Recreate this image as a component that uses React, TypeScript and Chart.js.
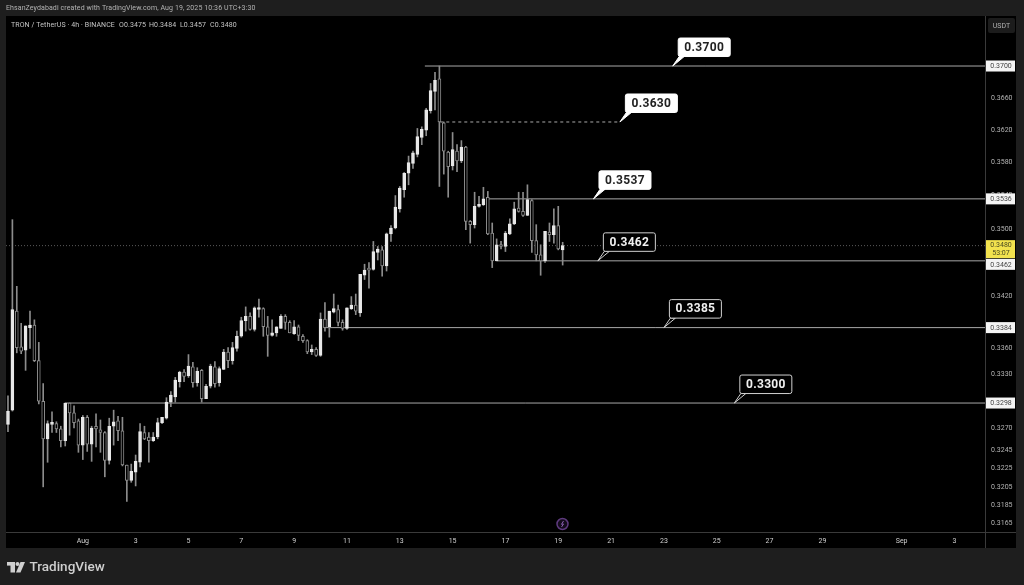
import React, { useEffect, useRef } from "react";
import { Chart, registerables } from "chart.js";
Chart.register(...registerables);

const opens = [.3274,.3290,.3403,.3362,.3358,.3384,.3387,.3346,.3300,.3258,.3274,.3275,.3269,.3256,.3298,.3287,.3278,.3251,.3282,.3252,.3272,.3268,.3265,.3234,.3272,.3278,.3267,.3229,.3212,.3221,.3232,.3265,.3260,.3256,.3260,.3276,.3281,.3299,.3305,.3322,.3333,.3329,.3339,.3321,.3335,.3303,.3317,.3339,.3321,.3336,.3356,.3346,.3360,.3374,.3392,.3397,.3382,.3405,.3406,.3385,.3375,.3378,.3383,.3397,.3390,.3377,.3385,.3374,.3369,.3356,.3359,.3352,.3394,.3385,.3402,.3405,.3390,.3383,.3406,.3410,.3401,.3445,.3452,.3452,.3472,.3475,.3456,.3494,.3501,.3524,.3547,.3567,.3579,.3590,.3611,.3620,.3644,.3668,.3684,.3629,.3593,.3576,.3594,.3582,.3599,.3509,.3505,.3527,.3529,.3538,.3495,.3462,.3481,.3479,.3494,.3506,.3525,.3521,.3516,.3534,.3486,.3469,.3462,.3496,.3493,.3504,.3475];
const highs = [.3306,.3511,.3432,.3389,.3386,.3403,.3393,.3367,.3320,.3278,.3288,.3277,.3272,.3298,.3298,.3295,.3280,.3284,.3284,.3272,.3286,.3279,.3266,.3281,.3290,.3283,.3282,.3229,.3230,.3240,.3275,.3272,.3265,.3265,.3281,.3282,.3304,.3311,.3327,.3334,.3336,.3353,.3344,.3338,.3336,.3319,.3342,.3345,.3339,.3359,.3361,.3367,.3380,.3396,.3408,.3401,.3408,.3417,.3407,.3397,.3393,.3385,.3399,.3399,.3392,.3392,.3387,.3376,.3370,.3364,.3361,.3401,.3413,.3403,.3423,.3410,.3393,.3407,.3420,.3423,.3446,.3458,.3460,.3485,.3479,.3479,.3495,.3504,.3540,.3551,.3568,.3588,.3594,.3622,.3624,.3647,.3678,.3692,.3700,.3630,.3594,.3617,.3602,.3607,.3600,.3510,.3544,.3539,.3550,.3545,.3507,.3488,.3485,.3497,.3512,.3532,.3544,.3544,.3553,.3535,.3505,.3481,.3497,.3507,.3524,.3527,.3484];
const lows = [.3266,.3289,.3355,.3354,.3335,.3360,.3345,.3297,.3205,.3232,.3265,.3265,.3249,.3250,.3262,.3270,.3243,.3235,.3244,.3233,.3249,.3243,.3216,.3230,.3251,.3256,.3228,.3189,.3210,.3206,.3227,.3257,.3232,.3255,.3258,.3275,.3280,.3294,.3299,.3316,.3322,.3327,.3316,.3317,.3299,.3303,.3315,.3316,.3317,.3336,.3338,.3342,.3357,.3373,.3380,.3381,.3380,.3396,.3374,.3351,.3374,.3374,.3383,.3382,.3378,.3376,.3369,.3367,.3354,.3353,.3351,.3351,.3380,.3373,.3401,.3386,.3381,.3382,.3405,.3399,.3397,.3440,.3430,.3451,.3463,.3444,.3450,.3485,.3500,.3520,.3538,.3553,.3573,.3587,.3602,.3613,.3641,.3645,.3551,.3566,.3538,.3571,.3569,.3580,.3499,.3483,.3501,.3526,.3528,.3493,.3454,.3462,.3476,.3473,.3493,.3505,.3520,.3515,.3516,.3472,.3462,.3445,.3460,.3485,.3483,.3475,.3457];
const closes = [.3289,.3405,.3361,.3357,.3386,.3387,.3346,.3300,.3258,.3275,.3276,.3269,.3256,.3298,.3287,.3276,.3251,.3282,.3252,.3270,.3269,.3265,.3234,.3272,.3277,.3267,.3229,.3212,.3222,.3233,.3266,.3258,.3256,.3260,.3276,.3282,.3299,.3307,.3324,.3333,.3328,.3340,.3321,.3334,.3303,.3317,.3340,.3320,.3337,.3356,.3346,.3361,.3374,.3392,.3397,.3382,.3407,.3407,.3385,.3375,.3378,.3385,.3397,.3390,.3378,.3385,.3375,.3369,.3356,.3359,.3352,.3394,.3384,.3403,.3406,.3390,.3383,.3407,.3410,.3403,.3446,.3451,.3451,.3473,.3476,.3456,.3494,.3501,.3526,.3549,.3567,.3580,.3592,.3612,.3621,.3645,.3669,.3682,.3630,.3594,.3575,.3596,.3582,.3599,.3509,.3505,.3527,.3529,.3536,.3494,.3462,.3481,.3479,.3495,.3506,.3524,.3521,.3516,.3535,.3486,.3469,.3462,.3497,.3493,.3504,.3476,.3480];

const dateTickIndex = [17, 29, 41, 53, 65, 77, 89, 101, 113, 125, 137, 149, 161, 173, 185, 203, 215];
const dateTickLabels = ["Aug", "3", "5", "7", "9", "11", "13", "15", "17", "19", "21", "23", "25", "27", "29", "Sep", "3"];
const priceTicks = [0.37, 0.366, 0.362, 0.358, 0.354, 0.35, 0.342, 0.338, 0.336, 0.333, 0.327, 0.3245, 0.3225, 0.3205, 0.3185, 0.3165];

const levelPrices = [0.37, 0.363, 0.3536, 0.3462, 0.3384, 0.3298];
const levelStarts = [94.7, 98.2, 109, 111, 72, 13];
const levelEnds = [222, 139, 222, 222, 222, 222];
const levelCalloutTexts = ["0.3700", "0.3630", "0.3537", "0.3462", "0.3385", "0.3300"];
const levelCalloutAt = [151, 139, 133, 134, 149, 165];
const lastPrice = 0.348;
const axisTags = ["0.3700", "0.3536", "0.3462", "0.3384", "0.3298"];

const FONT = "Roboto, sans-serif";

const chromeBack = {
  id: "chromeBack",
  beforeDraw(chart: any) {
    const c = chart.ctx as CanvasRenderingContext2D;
    c.save();
    c.fillStyle = "#1e1e1e";
    c.fillRect(0, 0, 1024, 585);
    c.fillStyle = "#000";
    c.fillRect(6, 16, 1010, 532);
    c.restore();
  },
};

const chromeFront = {
  id: "chromeFront",
  afterDraw(chart: any) {
    const c = chart.ctx as CanvasRenderingContext2D;
    const { x, y } = chart.scales;
    c.save();
    c.strokeStyle = "#3a3a3a";
    c.lineWidth = 1;
    c.beginPath();
    c.moveTo(985.5, 16);
    c.lineTo(985.5, 548);
    c.moveTo(6, 532.5);
    c.lineTo(1016, 532.5);
    c.stroke();

    c.textBaseline = "middle";
    c.textAlign = "left";
    c.font = `7px ${FONT}`;
    c.fillStyle = "#b4b4b4";
    (c as any).letterSpacing = "0.1px";
    c.fillText("EhsanZeydabadi created with TradingView.com, Aug 19, 2025 10:36 UTC+3:30", 6, 8.5);
    c.fillStyle = "#c4c4c4";
    c.fillText("TRON / TetherUS · 4h · BINANCE", 11, 25);
    c.fillText("O0.3475", 119, 25);
    c.fillText("H0.3484", 149, 25);
    c.fillText("L0.3457", 180, 25);
    c.fillText("C0.3480", 210, 25);
    (c as any).letterSpacing = "0px";

    c.fillStyle = "#1c1c1c";
    c.beginPath();
    c.roundRect(988, 18, 27, 15, 2);
    c.fill();
    c.fillStyle = "#b0b0b0";
    c.textAlign = "center";
    c.font = `7px ${FONT}`;
    c.fillText("USDT", 1001.5, 26);

    axisTags.forEach((t) => {
      const py = y.getPixelForValue(parseFloat(t));
      const cy = t === "0.3462" ? py + 3.5 : py;
      c.fillStyle = "#f4f4f4";
      c.fillRect(986, cy - 5.5, 29, 11);
      c.fillStyle = "#444";
      c.fillText(t, 1001, cy + 0.5);
    });
    const ly = y.getPixelForValue(lastPrice);
    c.fillStyle = "#f2e24e";
    c.fillRect(986, ly - 5.5, 29, 18);
    c.fillStyle = "#4a4a20";
    c.fillText("0.3480", 1001, ly + 0);
    c.fillText("53:07", 1001, ly + 8);

    levelCalloutTexts.forEach((t, i) => {
      const px = x.getPixelForValue(levelCalloutAt[i]);
      const py = y.getPixelForValue(levelPrices[i]);
      const dark = i >= 3;
      const bx = px + 5.5;
      const by = py - 28;
      const bw = 52;
      const bh = 18.5;
      const fill = dark ? "#000" : "#fff";
      c.strokeStyle = dark ? "#d0d0d0" : "#fff";
      c.lineWidth = 1;
      c.beginPath();
      c.moveTo(px, py);
      c.lineTo(bx + 6, by + bh);
      c.lineTo(bx + 1, by + bh);
      c.closePath();
      c.fillStyle = fill;
      c.fill();
      c.stroke();
      c.beginPath();
      c.roundRect(bx, by, bw, bh, 2);
      c.fillStyle = fill;
      c.fill();
      c.stroke();
      c.fillStyle = dark ? "#f0f0f0" : "#222";
      c.font = `bold 12px ${FONT}`;
      (c as any).letterSpacing = "0.3px";
      c.textAlign = "center";
      c.fillText(t, bx + bw / 2, by + bh / 2 + 0.5);
      (c as any).letterSpacing = "0px";
    });
    c.font = `7px ${FONT}`;

    c.strokeStyle = "#5e3a7e";
    c.lineWidth = 1.5;
    c.beginPath();
    c.arc(562.5, 524, 5.5, 0, Math.PI * 2);
    c.fillStyle = "#140c1c";
    c.fill();
    c.stroke();
    c.strokeStyle = "#8a5fb0";
    c.lineWidth = 1;
    c.beginPath();
    c.moveTo(563.5, 521);
    c.lineTo(561.5, 524.3);
    c.lineTo(563.5, 524);
    c.lineTo(561.5, 527);
    c.stroke();

    c.fillStyle = "#cfcfcf";
    c.fillRect(7, 562, 8, 3.6);
    c.fillRect(10.5, 562, 4.5, 10.5);
    c.beginPath();
    c.arc(17.5, 564, 2, 0, Math.PI * 2);
    c.fill();
    c.beginPath();
    c.moveTo(20.5, 562);
    c.lineTo(25, 562);
    c.lineTo(20.5, 572.5);
    c.lineTo(16, 572.5);
    c.closePath();
    c.fill();
    c.textAlign = "left";
    c.font = `500 13.5px ${FONT}`;
    c.fillStyle = "#cfcfcf";
    c.fillText("TradingView", 29.5, 567.5);
    c.restore();
  },
};

export default function App() {
  const ref = useRef<HTMLCanvasElement | null>(null);
  useEffect(() => {
    document.body.style.margin = "0";
    const idx = opens.map((_, i) => i);
    const up = idx.map((i) => closes[i] >= opens[i]);
    const levelSets: any[] = levelPrices.map((p, i) => ({
      type: "line",
      data: [
        { x: levelStarts[i], y: p },
        { x: levelEnds[i], y: p },
      ],
      borderColor: "#a8a8a8",
      borderWidth: 1,
      borderDash: i === 1 ? [3, 3] : [],
      pointRadius: 0,
      order: 3,
    }));
    const chart = new Chart(ref.current as HTMLCanvasElement, {
      type: "bar",
      data: {
        datasets: [
          {
            type: "line",
            data: [
              { x: -0.45, y: lastPrice },
              { x: 222, y: lastPrice },
            ],
            borderColor: "#5a5a5a",
            borderWidth: 1,
            borderDash: [1, 2],
            pointRadius: 0,
            order: 4,
          },
          ...levelSets,
          {
            data: idx.map((i) => ({ x: i, y: [lows[i], highs[i]] })),
            backgroundColor: "#8c8c8c",
            borderWidth: 0,
            barThickness: 1,
            grouped: false,
            order: 2,
          },
          {
            data: idx.map((i) => ({ x: i, y: [opens[i], closes[i]] })),
            backgroundColor: idx.map((i) => (up[i] ? "#e8e8e8" : "#000000")),
            borderColor: idx.map((i) => (up[i] ? "#e8e8e8" : "#8c8c8c")),
            borderWidth: 1,
            borderSkipped: false,
            barThickness: 3,
            minBarLength: 2,
            grouped: false,
            order: 1,
          },
        ] as any,
      },
      options: {
        animation: false,
        responsive: false,
        layout: { padding: { left: 6, top: 16, right: 8, bottom: 37 } },
        plugins: { legend: { display: false }, tooltip: { enabled: false } },
        scales: {
          x: {
            type: "linear",
            offset: false,
            min: -0.45,
            max: 221.94,
            grid: { display: false, drawTicks: false },
            border: { display: false },
            afterFit(s: any) {
              s.height = 16;
            },
            afterBuildTicks(s: any) {
              s.ticks = dateTickIndex.map((v) => ({ value: v }));
            },
            ticks: {
              autoSkip: false,
              maxRotation: 0,
              padding: 5,
              color: "#d0d0d0",
              font: { family: FONT, size: 7 },
              callback: (v: any) => {
                const k = dateTickIndex.indexOf(Number(v));
                return k >= 0 ? dateTickLabels[k] : "";
              },
            },
          },
          y: {
            type: "logarithmic",
            position: "right",
            min: 0.3156,
            max: 0.37637,
            grid: { display: false, drawTicks: false },
            border: { display: false },
            afterFit(s: any) {
              s.width = 31;
            },
            afterBuildTicks(s: any) {
              s.ticks = priceTicks.map((v) => ({ value: v }));
            },
            ticks: {
              autoSkip: false,
              padding: 6,
              color: "#b4b4b4",
              font: { family: FONT, size: 7 },
              callback: (v: any) => Number(v).toFixed(4),
            },
          },
        },
      } as any,
      plugins: [chromeBack, chromeFront] as any,
    });
    return () => chart.destroy();
  }, []);
  return (
    <div style={{ width: 1024, height: 585 }}>
      <canvas ref={ref} width={1024} height={585} style={{ display: "block" }} />
    </div>
  );
}
